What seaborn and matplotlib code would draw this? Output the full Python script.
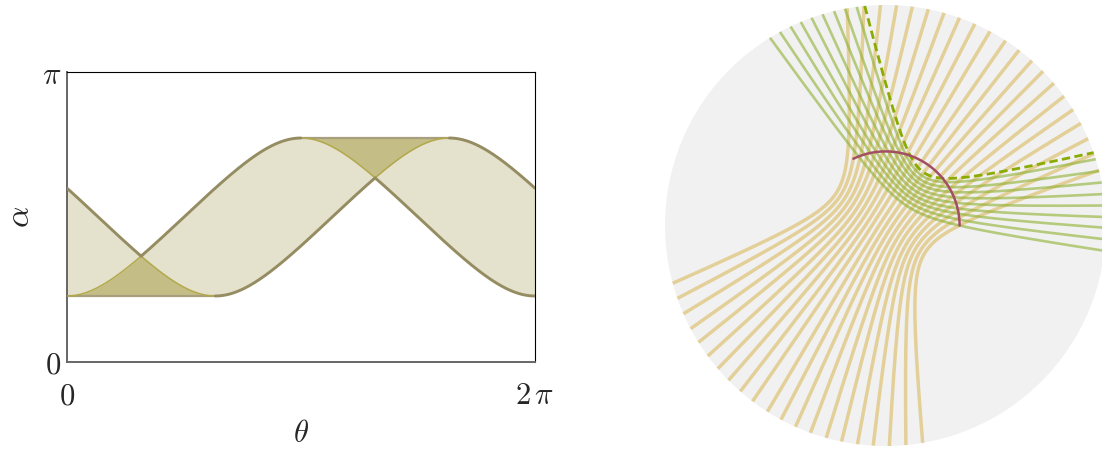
import numpy as np
import pandas as pd
import matplotlib
matplotlib.use("Agg")
import matplotlib.pyplot as plt
from matplotlib.patches import Circle
import seaborn as sns

# ---------------- data ----------------
# left panel
theta_tick_values = [0.0, 2 * np.pi]
theta_tick_labels = [r"$0$", r"$2\,\pi$"]
alpha_tick_values = [0.0, np.pi]
alpha_tick_labels = [r"$0$", r"$\pi$"]
endpoint_angles = [0.0, 1.99]      # angular positions (rad) of the two arc ends
alpha_min = 0.715                  # lowest alpha reached by each boundary curve

# right panel: boundary angles (deg) of the curves
tan_start_deg = [195.2, 199.3, 203.6, 207.9, 212.0, 216.3, 220.5, 224.6, 228.8, 232.9, 237.6,
                 241.7, 245.9, 250.1, 254.4, 258.5, 262.7, 266.8, 271.0, 275.3, 279.7]
tan_end_deg = [100.0, 95.6, 91.3, 87.1, 83.0, 78.8, 74.6, 70.4, 66.1, 61.7, 57.0,
               52.7, 48.4, 44.4, 40.2, 35.9, 31.7, 27.6, 23.2, 19.0, 14.5]
tan_bend_x = [-0.145, -0.133, -0.121, -0.109, -0.097, -0.085, -0.073, -0.061, -0.049, -0.037, -0.025,
              -0.013, -0.001, 0.011, 0.023, 0.035, 0.047, 0.059, 0.071, 0.083, 0.095]
tan_bend_y = [0.102, 0.094, 0.085, 0.077, 0.069, 0.060, 0.052, 0.044, 0.035, 0.027, 0.019,
              0.010, 0.002, -0.007, -0.015, -0.023, -0.032, -0.040, -0.048, -0.057, -0.065]
green_start_deg = [121.6, 118.6, 115.5, 112.6, 109.6, 106.6, 103.5, 100.6, 97.5]
green_end_deg = [-6.6, -3.6, -0.6, 2.2, 5.2, 8.2, 11.25, 14.3, 17.5]
green_bend_x = [0.075, 0.081, 0.087, 0.092, 0.098, 0.104, 0.110, 0.115, 0.121]
green_bend_y = [0.029, 0.043, 0.057, 0.070, 0.084, 0.098, 0.112, 0.125, 0.139]
dashed_start_deg, dashed_end_deg = 95.4, 19.3
dashed_bend = (0.127, 0.153)
arc_radius = 0.336
arc_from_deg, arc_to_deg = 0.0, 115.7

# ---------------- style ----------------
sns.set_theme(style="white")
plt.rcParams["font.family"] = ["DejaVu Serif"]
plt.rcParams["mathtext.fontset"] = "cm"

LIGHT = "#e4e2cd"
DARK = "#c4bd86"
THICK = "#958c62"
THIN = "#b3a84c"
FLAT = "#a89f7c"

fig = plt.figure(figsize=(11.02, 4.5), dpi=100)
axL = fig.add_axes([67 / 1102, 88 / 450, 468 / 1102, 290 / 450])
axR = fig.add_axes([(885.5 - 220.5) / 1102, 4 / 450, 441 / 1102, 441 / 450])


def runs(mask):
    seg = np.full(mask.shape, -1)
    cur = 0
    prev = False
    for i, m in enumerate(mask):
        if m:
            if not prev:
                cur += 1
            seg[i] = cur
        prev = m
    return seg


def draw_masked(ax, x, y, mask, **kw):
    seg = runs(mask)
    keep = seg >= 0
    df = pd.DataFrame({"x": x[keep], "y": y[keep], "seg": seg[keep]})
    sns.lineplot(data=df, x="x", y="y", units="seg", estimator=None, sort=False,
                 ax=ax, legend=False, **kw)


# ---------------- left panel ----------------
theta = np.linspace(0, 2 * np.pi, 2001)
k = np.cos(alpha_min)
phiA, phiB = endpoint_angles
SA = np.arccos(k * np.cos(theta - phiA))
SB = np.arccos(k * np.cos(theta - phiB))
lo = np.minimum(SA, SB)
hi = np.maximum(SA, SB)
amax = np.pi - alpha_min

axL.fill_between(theta, lo, hi, color=LIGHT, lw=0, zorder=1)
bottom_zone = theta <= phiB
top_zone = (theta >= np.pi) & (theta <= phiB + np.pi)
axL.fill_between(theta, alpha_min, lo, where=bottom_zone, color=DARK, lw=0,
                 interpolate=True, zorder=1)
axL.fill_between(theta, hi, amax, where=top_zone, color=DARK, lw=0,
                 interpolate=True, zorder=1)

# flat edges of the dark regions
draw_masked(axL, theta, np.full_like(theta, alpha_min), bottom_zone, color=FLAT, lw=1.6, zorder=2)
draw_masked(axL, theta, np.full_like(theta, amax), top_zone, color=FLAT, lw=1.6, zorder=2)

for S, other in ((SA, SB), (SB, SA)):
    thin = (bottom_zone & (S <= other)) | (top_zone & (S >= other))
    draw_masked(axL, theta, S, thin, color=THIN, lw=1.1, zorder=3, solid_capstyle="butt")
    draw_masked(axL, theta, S, ~thin, color=THICK, lw=2.1, zorder=4, solid_capstyle="round")

axL.set_xlim(0, 2 * np.pi)
axL.set_ylim(0, np.pi)
axL.set_xticks(theta_tick_values)
axL.set_xticklabels(theta_tick_labels, fontsize=22)
axL.set_yticks(alpha_tick_values)
axL.set_yticklabels(alpha_tick_labels, fontsize=22)
axL.tick_params(axis="both", length=0)
axL.tick_params(axis="x", pad=13)
axL.tick_params(axis="y", pad=4)
axL.set_xlabel(r"$\theta$", fontsize=22, labelpad=5)
axL.set_ylabel(r"$\alpha$", fontsize=24, labelpad=4)
for name, sp in axL.spines.items():
    sp.set_visible(True)
    sp.set_color("black")
    sp.set_linewidth(0.8)
axL.spines["left"].set_color("#666666")
axL.spines["left"].set_linewidth(1.4)
axL.spines["bottom"].set_color("#666666")
axL.spines["bottom"].set_linewidth(1.4)


# ---------------- right panel ----------------
def conic(start_deg, end_deg, bend, w=4.0, n=300):
    a, b = np.radians(start_deg), np.radians(end_deg)
    p0 = np.array([np.cos(a), np.sin(a)])
    p2 = np.array([np.cos(b), np.sin(b)])
    c = np.array(bend)
    t = np.linspace(0, 1, n)[:, None]
    b0, b1, b2 = (1 - t) ** 2, 2 * w * t * (1 - t), t ** 2
    pts = (b0 * p0 + b1 * c + b2 * p2) / (b0 + b1 + b2)
    return pts[:, 0], pts[:, 1]


def family_frame(starts, ends, bx, by, w):
    rows = []
    for i, (s, e, x0, y0) in enumerate(zip(starts, ends, bx, by)):
        x, y = conic(s, e, (x0, y0), w)
        rows.append(pd.DataFrame({"x": x, "y": y, "curve": i}))
    return pd.concat(rows, ignore_index=True)


axR.add_patch(Circle((0, 0), 1.0, facecolor="#f1f1f1", edgecolor="none", zorder=0))

tan_df = family_frame(tan_start_deg, tan_end_deg, tan_bend_x, tan_bend_y, 4.5)
sns.lineplot(data=tan_df, x="x", y="y", units="curve", estimator=None, sort=False,
             color="#dbbb62", alpha=0.62, lw=2.5, ax=axR, legend=False, zorder=2,
             solid_capstyle="butt")

green_df = family_frame(green_start_deg, green_end_deg, green_bend_x, green_bend_y, 5.0)
sns.lineplot(data=green_df, x="x", y="y", units="curve", estimator=None, sort=False,
             color="#8db030", alpha=0.6, lw=1.9, ax=axR, legend=False, zorder=3,
             solid_capstyle="butt")

dx, dy = conic(dashed_start_deg, dashed_end_deg, dashed_bend, 5.0)
sns.lineplot(x=dx, y=dy, sort=False, color="#8aab00", lw=2.0, ax=axR,
             zorder=4, dashes=False, linestyle=(0, (3.0, 1.6)))

arc_t = np.radians(np.linspace(arc_from_deg, arc_to_deg, 200))
sns.lineplot(x=arc_radius * np.cos(arc_t), y=arc_radius * np.sin(arc_t), sort=False,
             color="#a44e66", lw=1.8, ax=axR, zorder=5)

axR.set_xlim(-1, 1)
axR.set_ylim(-1, 1)
axR.axis("off")

fig.savefig("out.png", dpi=100)
